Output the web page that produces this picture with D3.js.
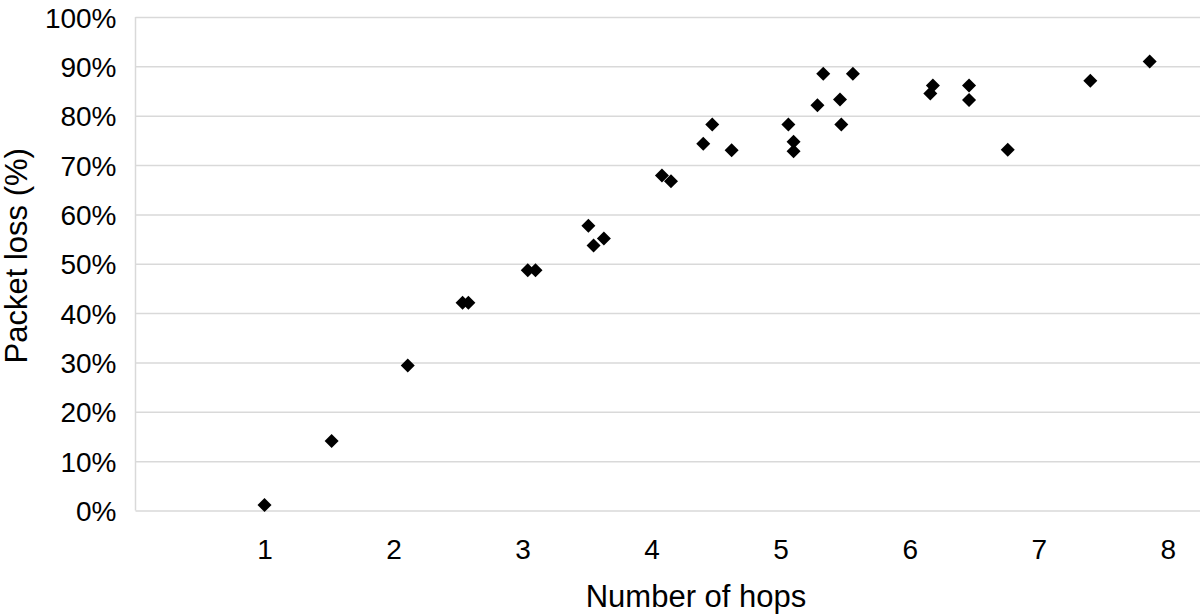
<!DOCTYPE html>
<html>
<head>
<meta charset="utf-8">
<script src="https://cdn.jsdelivr.net/npm/d3@7"></script>
<style>
  html, body { margin: 0; padding: 0; background: #fff; }
  svg { display: block; font-family: "Liberation Sans", Arial, Helvetica, sans-serif; }
  .grid line { stroke: #d9d9d9; stroke-width: 1.5; }
  .grid .domain { display: none; }
  .axis-y .domain, .axis-x .domain { display: none; }
  .tick text { fill: #000; }
</style>
</head>
<body>
<svg id="chart"></svg>
<script>
// number of hops vs packet loss (%)
const hops = [1.0, 1.52, 2.11, 2.535, 2.58, 3.04, 3.10, 3.51, 3.55, 3.63,
  4.08, 4.15, 4.40, 4.47, 4.62, 5.06, 5.10, 5.10, 5.285, 5.33,
  5.46, 5.47, 5.56, 6.16, 6.18, 6.46, 6.46, 6.76, 7.40, 7.86];
const packetLoss = [1.1, 14.1, 29.4, 42.1, 42.1, 48.7, 48.7, 57.7, 53.7, 55.1,
  67.9, 66.7, 74.3, 78.2, 73.0, 78.2, 74.7, 72.8, 82.1, 88.5,
  83.3, 78.2, 88.5, 84.5, 86.1, 86.1, 83.2, 73.1, 87.1, 91.0];
const xTicks = [1, 2, 3, 4, 5, 6, 7, 8];
const yTicks = [0, 10, 20, 30, 40, 50, 60, 70, 80, 90, 100];

const W = 1200, H = 615;
const margin = { top: 17, right: 0, bottom: 104.5, left: 135.5 };

const svg = d3.select('#chart').attr('width', W).attr('height', H);

const x = d3.scaleLinear().domain([0, 8.25]).range([margin.left, W - margin.right]);
const y = d3.scaleLinear().domain([0, 100]).range([H - margin.bottom, margin.top]);

// horizontal gridlines
svg.append('g')
  .attr('class', 'grid')
  .attr('transform', `translate(${margin.left},0)`)
  .call(d3.axisLeft(y).tickValues(yTicks).tickSize(-(W - margin.left - margin.right)).tickFormat(''));

// y axis line
svg.append('line')
  .attr('x1', margin.left).attr('x2', margin.left)
  .attr('y1', y(100)).attr('y2', y(0))
  .attr('stroke', '#d9d9d9').attr('stroke-width', 1.5);

// y tick labels
svg.append('g')
  .attr('class', 'axis-y')
  .attr('transform', `translate(${margin.left},0)`)
  .call(d3.axisLeft(y).tickValues(yTicks).tickSize(0).tickPadding(19).tickFormat(d => d + '%'))
  .selectAll('text')
  .attr('font-size', 28)
  .attr('dy', '0.36em');

// x tick labels
svg.append('g')
  .attr('class', 'axis-x')
  .attr('transform', `translate(0,${y(0)})`)
  .call(d3.axisBottom(x).tickValues(xTicks).tickSize(0).tickPadding(0).tickFormat(d3.format('d')))
  .selectAll('text')
  .attr('font-size', 28)
  .attr('dy', null)
  .attr('y', 48);

// points
const diamond = d3.symbol().type(d3.symbolDiamond2).size(125);
svg.append('g')
  .selectAll('path')
  .data(hops.map((h, i) => ({ h, v: packetLoss[i] })))
  .join('path')
  .attr('d', diamond)
  .attr('transform', d => `translate(${x(d.h)},${y(d.v)})`)
  .attr('fill', '#000');

// axis titles
svg.append('text')
  .attr('x', 696)
  .attr('y', 607)
  .attr('text-anchor', 'middle')
  .attr('font-size', 31)
  .text('Number of hops');

svg.append('text')
  .attr('transform', `translate(27,${(y(0) + y(100)) / 2 - 8}) rotate(-90)`)
  .attr('text-anchor', 'middle')
  .attr('font-size', 31)
  .text('Packet loss (%)');
</script>
</body>
</html>
